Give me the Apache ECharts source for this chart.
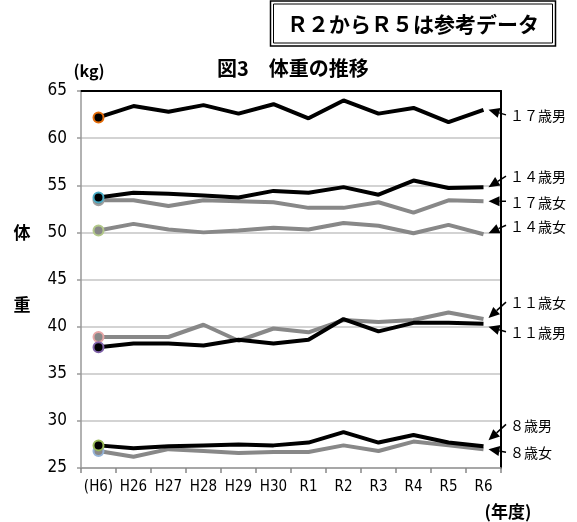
<!DOCTYPE html>
<html>
<head>
<meta charset="utf-8">
<title>図3 体重の推移</title>
<script src="https://cdn.jsdelivr.net/npm/echarts@6/dist/echarts.min.js"></script>
<style>
  html, body { margin: 0; padding: 0; background: #fff; }
  #chart { width: 577px; height: 522px; }
</style>
</head>
<body>
<div id="chart"></div>
<script>
  // 年度
  const categories = ['(H6)', 'H26', 'H27', 'H28', 'H29', 'H30', 'R1', 'R2', 'R3', 'R4', 'R5', 'R6']
  // 体重 (kg)
  const male17 = [62.2, 63.4, 62.8, 63.5, 62.6, 63.6, 62.1, 64.0, 62.6, 63.2, 61.7, 63.0]
  const male14 = [53.7, 54.2, 54.1, 53.9, 53.7, 54.4, 54.2, 54.8, 54.0, 55.5, 54.7, 54.8]
  const female17 = [53.4, 53.4, 52.8, 53.4, 53.3, 53.2, 52.6, 52.6, 53.2, 52.1, 53.4, 53.3]
  const female14 = [50.2, 50.9, 50.3, 50.0, 50.2, 50.5, 50.3, 51.0, 50.7, 49.9, 50.8, 49.8]
  const female11 = [38.9, 38.9, 38.9, 40.2, 38.5, 39.8, 39.4, 40.7, 40.5, 40.7, 41.5, 40.8]
  const male11 = [37.8, 38.2, 38.2, 38.0, 38.6, 38.2, 38.6, 40.8, 39.5, 40.4, 40.4, 40.3]
  const male8 = [27.4, 27.1, 27.3, 27.4, 27.5, 27.4, 27.7, 28.8, 27.7, 28.5, 27.7, 27.3]
  const female8 = [26.8, 26.2, 27.0, 26.8, 26.6, 26.7, 26.7, 27.4, 26.8, 27.8, 27.4, 27.0]
  const yTicks = [25, 30, 35, 40, 45, 50, 55, 60, 65]

  const BLACK = '#000'
  const GRAY = '#888'
  const narrow = "'Liberation Sans Narrow', 'DejaVu Sans Condensed', 'Liberation Sans', sans-serif"
  const jp = "'Noto Sans CJK JP', sans-serif"

  // name, data, line colour, ring colour of the (H6) marker, label shift, arrow tip shift
  const lines = [
    { name: '１７歳男', data: male17, color: BLACK, ring: '#e46c0a', dy: 6, tip: 0 },
    { name: '１４歳男', data: male14, color: BLACK, ring: '#4bacc6', dy: -10, tip: 0 },
    { name: '１７歳女', data: female17, color: GRAY, ring: '#a0a0a0', dy: 1, tip: 0 },
    { name: '１４歳女', data: female14, color: GRAY, ring: '#b3c98a', dy: -8, tip: -1 },
    { name: '１１歳女', data: female11, color: GRAY, ring: '#e6a5a5', dy: -16, tip: -1 },
    { name: '１１歳男', data: male11, color: BLACK, ring: '#7f62a8', dy: 9, tip: 3 },
    { name: '８歳男', data: male8, color: BLACK, ring: '#9bbb59', dy: -21, tip: -6 },
    { name: '８歳女', data: female8, color: GRAY, ring: '#95b3d7', dy: 4, tip: 0 }
  ]

  const chart = echarts.init(document.getElementById('chart'), null, { renderer: 'canvas' })

  const series = lines.map(function (l) {
    return {
      name: l.name,
      type: 'line',
      symbol: 'none',
      animation: false,
      // 黒線を灰色線の上に
      z: l.color === BLACK ? 4 : 3,
      lineStyle: { color: l.color, width: 4 },
      itemStyle: { color: l.color },
      data: l.data.map(function (v, i) {
        if (i !== 0) return v
        // 基準年 (H6) だけ丸印
        return {
          value: v,
          symbol: 'circle',
          symbolSize: 10,
          itemStyle: { color: l.color, borderColor: l.ring, borderWidth: 2 }
        }
      })
    }
  })

  chart.setOption({
    animation: false,
    grid: { left: 81, right: 76, top: 91, bottom: 54, containLabel: false },
    xAxis: [
      {
        type: 'category',
        data: categories,
        boundaryGap: true,
        axisLine: { lineStyle: { color: '#999', width: 1.5 } },
        axisTick: { show: true, length: 5, interval: 0, lineStyle: { color: '#888', width: 1.5 } },
        axisLabel: { color: '#000', fontSize: 15, fontFamily: narrow, margin: 12, interval: 0 },
        splitLine: { show: false }
      },
      {
        // 枠の上辺
        type: 'category',
        position: 'top',
        data: categories,
        axisLine: { lineStyle: { color: '#000', width: 2 } },
        axisTick: { show: false },
        axisLabel: { show: false },
        splitLine: { show: false }
      }
    ],
    yAxis: [
      {
        type: 'value',
        min: yTicks[0],
        max: yTicks[yTicks.length - 1],
        interval: 5,
        axisLine: { show: true, lineStyle: { color: '#999', width: 1.5 } },
        axisTick: { show: true, length: 4, lineStyle: { color: '#999', width: 1.5 } },
        axisLabel: { color: '#000', fontSize: 17, fontFamily: narrow, margin: 14 },
        splitLine: { lineStyle: { color: '#c4c4c4', width: 1.5 } }
      },
      {
        // 枠の右辺
        type: 'value',
        position: 'right',
        min: yTicks[0],
        max: yTicks[yTicks.length - 1],
        interval: 5,
        axisLine: { show: true, lineStyle: { color: '#000', width: 2 } },
        axisTick: { show: false },
        axisLabel: { show: false },
        splitLine: { show: false }
      }
    ],
    series: series
  })

  // 系列名のラベルと矢印
  const graphic = []
  lines.forEach(function (l) {
    const last = l.data.length - 1
    const end = chart.convertToPixel({ xAxisIndex: 0, yAxisIndex: 0 }, [categories[last], l.data[last]])
    const ly = end[1] + l.dy
    const tip = [end[0] + 5, end[1] + l.tip]
    const tail = [506, ly - 1]
    const dx = tip[0] - tail[0]
    const dyy = tip[1] - tail[1]
    const len = Math.sqrt(dx * dx + dyy * dyy)
    const ux = dx / len
    const uy = dyy / len
    const head = 11
    const half = 5
    const bx = tip[0] - ux * head
    const by = tip[1] - uy * head
    graphic.push({
      type: 'line',
      shape: { x1: tail[0], y1: tail[1], x2: bx, y2: by },
      style: { stroke: '#000', lineWidth: 1.5 }
    })
    graphic.push({
      type: 'polygon',
      shape: { points: [tip, [bx - uy * half, by + ux * half], [bx + uy * half, by - ux * half]] },
      style: { fill: '#000' }
    })
    graphic.push({
      type: 'text',
      x: 510,
      y: ly,
      style: { text: l.name, font: '14px ' + jp, fill: '#000', align: 'left', verticalAlign: 'middle' }
    })
  })

  // 注記の二重枠
  graphic.push({ type: 'rect', shape: { x: 270.5, y: 1, width: 285, height: 45 }, style: { fill: 'none', stroke: '#000', lineWidth: 1.5 } })
  graphic.push({ type: 'rect', shape: { x: 273.5, y: 4, width: 279, height: 39 }, style: { fill: 'none', stroke: '#000', lineWidth: 1 } })
  graphic.push({
    type: 'text', x: 413, y: 24,
    style: { text: 'Ｒ２からＲ５は参考データ', font: 'bold 21px ' + jp, fill: '#000', align: 'center', verticalAlign: 'middle' }
  })
  // タイトル・単位・軸名
  graphic.push({
    type: 'text', x: 217, y: 68,
    style: { text: '図3　体重の推移', font: 'bold 20px ' + jp, fill: '#000', align: 'left', verticalAlign: 'middle' }
  })
  graphic.push({
    type: 'text', x: 89, y: 71,
    style: { text: '(kg)', font: 'bold 16px ' + jp, fill: '#000', align: 'center', verticalAlign: 'middle' }
  })
  graphic.push({
    type: 'text', x: 22, y: 233,
    style: { text: '体', font: 'bold 17px ' + jp, fill: '#000', align: 'center', verticalAlign: 'middle' }
  })
  graphic.push({
    type: 'text', x: 22, y: 305,
    style: { text: '重', font: 'bold 17px ' + jp, fill: '#000', align: 'center', verticalAlign: 'middle' }
  })
  graphic.push({
    type: 'text', x: 508, y: 512,
    style: { text: '(年度)', font: 'bold 17px ' + jp, fill: '#000', align: 'center', verticalAlign: 'middle' }
  })

  chart.setOption({ graphic: graphic })
</script>
</body>
</html>
